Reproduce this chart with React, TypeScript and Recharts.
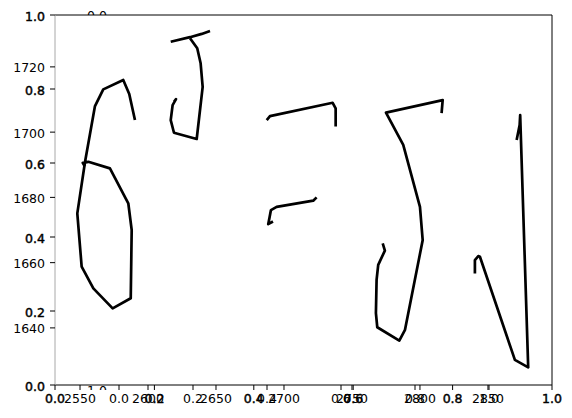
import React from "react";
import { LineChart, Line, XAxis, YAxis, ReferenceLine } from "recharts";

// handwritten strokes, in data units of the inner axes
const strokeSix = [
  { x: 2590.4, y: 1703.7 }, { x: 2586.2, y: 1711.7 }, { x: 2581.8, y: 1716.0 },
  { x: 2567.1, y: 1713.1 }, { x: 2561.0, y: 1708.0 }, { x: 2553.7, y: 1690.9 },
  { x: 2548.0, y: 1675.1 }, { x: 2551.2, y: 1658.8 }, { x: 2559.8, y: 1652.1 },
  { x: 2574.0, y: 1646.0 }, { x: 2587.3, y: 1649.1 }, { x: 2588.0, y: 1670.0 },
  { x: 2585.5, y: 1678.2 }, { x: 2572.0, y: 1688.9 }, { x: 2556.1, y: 1690.9 },
  { x: 2552.0, y: 1690.6 }, { x: 2553.7, y: 1689.4 },
];
const strokeBar = [
  { x: 2616.7, y: 1727.7 }, { x: 2630.9, y: 1729.1 }, { x: 2639.5, y: 1730.1 },
  { x: 2645.6, y: 1731.0 },
];
const strokeHook = [
  { x: 2630.9, y: 1728.8 }, { x: 2636.2, y: 1725.7 }, { x: 2638.7, y: 1721.1 },
  { x: 2640.2, y: 1713.9 }, { x: 2635.8, y: 1697.9 }, { x: 2619.1, y: 1699.8 },
  { x: 2616.7, y: 1703.7 }, { x: 2618.1, y: 1708.3 }, { x: 2620.6, y: 1710.1 },
  { x: 2619.1, y: 1709.3 },
];
const strokeTopF = [
  { x: 2687.3, y: 1703.7 }, { x: 2689.7, y: 1704.9 }, { x: 2735.8, y: 1709.0 },
  { x: 2738.0, y: 1707.3 }, { x: 2738.0, y: 1701.7 },
];
const strokeMidF = [
  { x: 2724.0, y: 1680.0 }, { x: 2721.5, y: 1679.0 }, { x: 2694.6, y: 1677.1 },
  { x: 2690.4, y: 1676.1 }, { x: 2689.3, y: 1673.7 }, { x: 2688.4, y: 1671.8 },
  { x: 2691.9, y: 1672.6 },
];
const strokeLongJ = [
  { x: 2815.9, y: 1705.8 }, { x: 2816.7, y: 1709.8 }, { x: 2775.0, y: 1706.0 },
  { x: 2787.7, y: 1696.1 }, { x: 2800.0, y: 1677.1 }, { x: 2802.0, y: 1666.9 },
  { x: 2789.0, y: 1639.4 }, { x: 2784.8, y: 1636.1 }, { x: 2768.6, y: 1640.2 },
  { x: 2767.6, y: 1644.5 }, { x: 2768.1, y: 1654.7 }, { x: 2769.3, y: 1659.3 },
  { x: 2774.2, y: 1663.7 }, { x: 2772.6, y: 1665.9 },
];
const strokeN = [
  { x: 2840.4, y: 1656.7 }, { x: 2840.4, y: 1660.8 }, { x: 2842.9, y: 1662.0 },
  { x: 2844.1, y: 1661.8 }, { x: 2869.8, y: 1630.2 }, { x: 2879.6, y: 1627.9 },
  { x: 2873.7, y: 1705.2 }, { x: 2873.3, y: 1702.2 }, { x: 2871.1, y: 1697.6 },
];
const strokes = [strokeSix, strokeBar, strokeHook, strokeTopF, strokeMidF, strokeLongJ, strokeN];

const dataXTicks = [2550, 2600, 2650, 2700, 2750, 2800, 2850];
const dataYTicks = [1640, 1660, 1680, 1700, 1720];
const dataXDomain = [2531.6, 2897.1];
const dataYDomain = [1622.5, 1735.9];
const unitTicks = [0, 0.2, 0.4, 0.6, 0.8, 1.0];

const W = 572;
const H = 418;
const FONT = "DejaVu Sans, sans-serif";
const FS = 12.5;

const layer: React.CSSProperties = { position: "absolute", left: 0, top: 0 };

const makeXTick = (bold: boolean, fmt: (v: number) => string) => (props: any) => (
  <text
    x={props.x}
    y={props.y}
    dy={13}
    textAnchor="middle"
    fontSize={FS}
    fontFamily={FONT}
    fill="#000"
    stroke={bold ? "#000" : "none"}
    strokeWidth={bold ? 0.45 : 0}
  >
    {fmt(props.payload.value)}
  </text>
);

const makeYTick = (bold: boolean, fmt: (v: number) => string) => (props: any) => (
  <text
    x={props.x}
    y={props.y}
    dx={-5}
    dy={5.5}
    textAnchor="end"
    fontSize={FS}
    fontFamily={FONT}
    fill="#000"
    stroke={bold ? "#000" : "none"}
    strokeWidth={bold ? 0.45 : 0}
  >
    {fmt(props.payload.value)}
  </text>
);

const fmt1 = (v: number) => v.toFixed(1);
const fmt0 = (v: number) => String(v);

const App = () => {
  return (
    <div style={{ position: "absolute", left: 0, top: 0, width: W, height: H, background: "#fff" }}>
      {/* third axes: only its bottom ticks and two clipped y labels show */}
      <div style={layer}>
        <LineChart width={W} height={H} margin={{ top: 15, right: 83, left: 119, bottom: 0 }}>
          <XAxis
            type="number"
            dataKey="x"
            domain={[0, 1]}
            ticks={unitTicks}
            allowDataOverflow
            height={33}
            axisLine={false}
            tickSize={5}
            tickMargin={0}
            tickLine={{ stroke: "#000" }}
            tick={makeXTick(false, fmt1)}
          />
          <YAxis type="number" domain={[0, 1]} hide />
        </LineChart>
      </div>
      <svg style={layer} width={W} height={H}>
        <defs>
          <clipPath id="clipTop">
            <rect x={0} y={0} width={W} height={15} />
          </clipPath>
          <clipPath id="clipBottom">
            <rect x={0} y={385} width={W} height={5} />
          </clipPath>
        </defs>
        <text x={97} y={20} textAnchor="middle" fontSize={FS} fontFamily={FONT} fill="#000" clipPath="url(#clipTop)">
          0.0
        </text>
        <text x={97} y={394.5} textAnchor="middle" fontSize={FS} fontFamily={FONT} fill="#000" clipPath="url(#clipBottom)">
          1.0
        </text>
      </svg>
      {/* unit axes frame */}
      <div style={layer}>
        <LineChart width={W} height={H} margin={{ top: 15, right: 20, left: 0, bottom: 0 }}>
          <XAxis
            type="number"
            dataKey="x"
            domain={[0, 1]}
            ticks={unitTicks}
            allowDataOverflow
            height={33}
            axisLine={{ stroke: "#000" }}
            tickSize={5}
            tickMargin={0}
            tickLine={{ stroke: "#000" }}
            tick={makeXTick(true, fmt1)}
          />
          <YAxis
            type="number"
            domain={[0, 1]}
            ticks={unitTicks}
            allowDataOverflow
            width={55}
            axisLine={{ stroke: "#a8a8a8" }}
            tickSize={5}
            tickMargin={0}
            tickLine={{ stroke: "#000" }}
            tick={makeYTick(true, fmt1)}
          />
          <ReferenceLine y={1} stroke="#000" strokeWidth={1} ifOverflow="visible" />
          <ReferenceLine x={1} stroke="#000" strokeWidth={1} ifOverflow="visible" />
        </LineChart>
      </div>
      {/* data axes */}
      <div style={layer}>
        <LineChart width={W} height={H} margin={{ top: 15, right: 20, left: 0, bottom: 0 }}>
          <XAxis
            type="number"
            dataKey="x"
            domain={dataXDomain}
            ticks={dataXTicks}
            allowDataOverflow
            height={33}
            axisLine={false}
            tickSize={5}
            tickMargin={0}
            tickLine={{ stroke: "#000" }}
            tick={makeXTick(false, fmt0)}
          />
          <YAxis
            type="number"
            dataKey="y"
            domain={dataYDomain}
            ticks={dataYTicks}
            allowDataOverflow
            width={55}
            axisLine={false}
            tickSize={5}
            tickMargin={0}
            tickLine={{ stroke: "#000" }}
            tick={makeYTick(false, fmt0)}
          />
          {strokes.map((s, i) => (
            <Line
              key={i}
              data={s}
              dataKey="y"
              type="linear"
              stroke="#000"
              strokeWidth={2.7}
              strokeLinejoin="round"
              dot={false}
              activeDot={false}
              isAnimationActive={false}
            />
          ))}
        </LineChart>
      </div>
    </div>
  );
};

export default App;
